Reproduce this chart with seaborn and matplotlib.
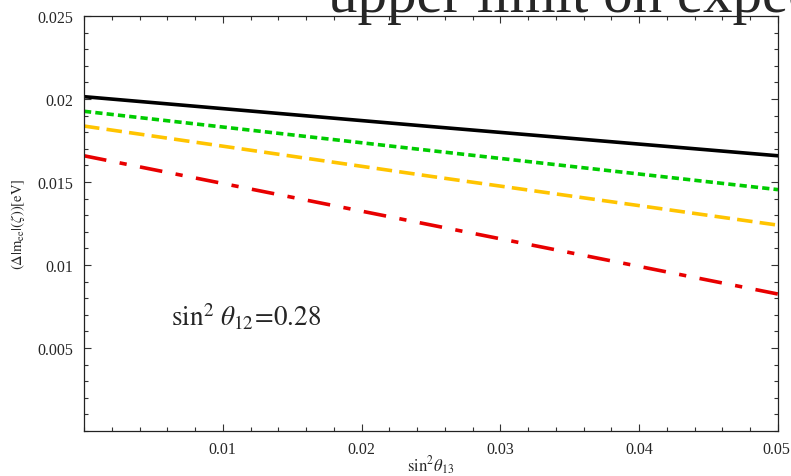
import numpy as np
import pandas as pd
import matplotlib
matplotlib.use("Agg")
import matplotlib.pyplot as plt
from matplotlib.ticker import MultipleLocator, FixedLocator
from matplotlib.transforms import ScaledTranslation
import seaborn as sns

# sin^2 theta13 sample points
s13 = [0.0, 0.025, 0.05]

# Delta|m_ee|(zeta) in eV for the four curves
curve_black = [0.02014, 0.01834, 0.01658]
curve_green = [0.01926, 0.01689, 0.01454]
curve_yellow = [0.01837, 0.01534, 0.01240]
curve_red = [0.01658, 0.01241, 0.00825]

series_names = ["black", "green", "yellow", "red"]
series_values = [curve_black, curve_green, curve_yellow, curve_red]

x_ticks = [0.01, 0.02, 0.03, 0.04, 0.05]
x_tick_labels = ["0.01", "0.02", "0.03", "0.04", "0.05"]
y_ticks = [0.005, 0.01, 0.015, 0.02, 0.025]
y_tick_labels = ["0.005", "0.01", "0.015", "0.02", "0.025"]

title_text = "upper limit on expected"
note_text = r"$\mathrm{sin}^2\ \theta_{12}\!=\!0.28$"

df = pd.DataFrame({
    "s13": np.concatenate([s13] * len(series_names)),
    "dm": np.concatenate(series_values),
    "curve": np.repeat(series_names, len(s13)),
})

sns.set_theme(style="ticks")
plt.rcParams["font.family"] = ["Liberation Serif", "DejaVu Serif"]
plt.rcParams["mathtext.fontset"] = "stix"

fig = plt.figure(figsize=(7.91, 4.77), dpi=100)
ax = fig.add_axes([84 / 791, 45 / 477, 694 / 791, 415 / 477])

palette = {"black": "#000000", "green": "#00cc00", "yellow": "#ffc400", "red": "#e80000"}
dashes = {
    "black": "",
    "green": (2.0, 1.15),
    "yellow": (4.3, 2.0),
    "red": (6.3, 3.75, 2.0, 3.75),
}

sns.lineplot(data=df, x="s13", y="dm", hue="curve", style="curve",
             palette=palette, dashes=dashes, linewidth=2.6,
             legend=False, ax=ax, sort=True)

ax.set_xlim(0, 0.05)
ax.set_ylim(0, 0.025)

ax.xaxis.set_major_locator(FixedLocator(x_ticks))
ax.set_xticklabels(x_tick_labels)
ax.yaxis.set_major_locator(FixedLocator(y_ticks))
ax.set_yticklabels(y_tick_labels)
ax.xaxis.set_minor_locator(MultipleLocator(0.002))
ax.yaxis.set_minor_locator(MultipleLocator(0.001))

ax.tick_params(which="both", direction="in", top=True, right=True,
               labeltop=False, labelright=False, color="#333333", width=0.8)
ax.tick_params(which="major", length=5)
ax.tick_params(which="minor", length=3)
ax.tick_params(axis="x", which="major", pad=7, labelsize=11.5)
ax.tick_params(axis="y", which="major", pad=8, labelsize=11.5)

# keep the last x tick label inside the canvas
last_lbl = ax.get_xticklabels()[-1]
last_lbl.set_transform(last_lbl.get_transform() + ScaledTranslation(-2 / 100, 0, fig.dpi_scale_trans))

for sp in ax.spines.values():
    sp.set_color("#222222")
    sp.set_linewidth(0.9)

ax.set_xlabel(r"$\mathrm{sin}^2\theta_{13}$", fontsize=12, labelpad=-2.5)
ax.set_ylabel(r"$(\Delta|\mathrm{m}_{\mathrm{ee}}|(\zeta))[\mathrm{eV}]$", fontsize=10.5, labelpad=7)

ax.text(0.0063, 0.00634, note_text, fontsize=19.5, ha="left", va="baseline")

fig.text(328 / 791, 1 - 12 / 477, title_text, fontsize=42.5, ha="left", va="baseline")

fig.savefig("out.png", dpi=100)
